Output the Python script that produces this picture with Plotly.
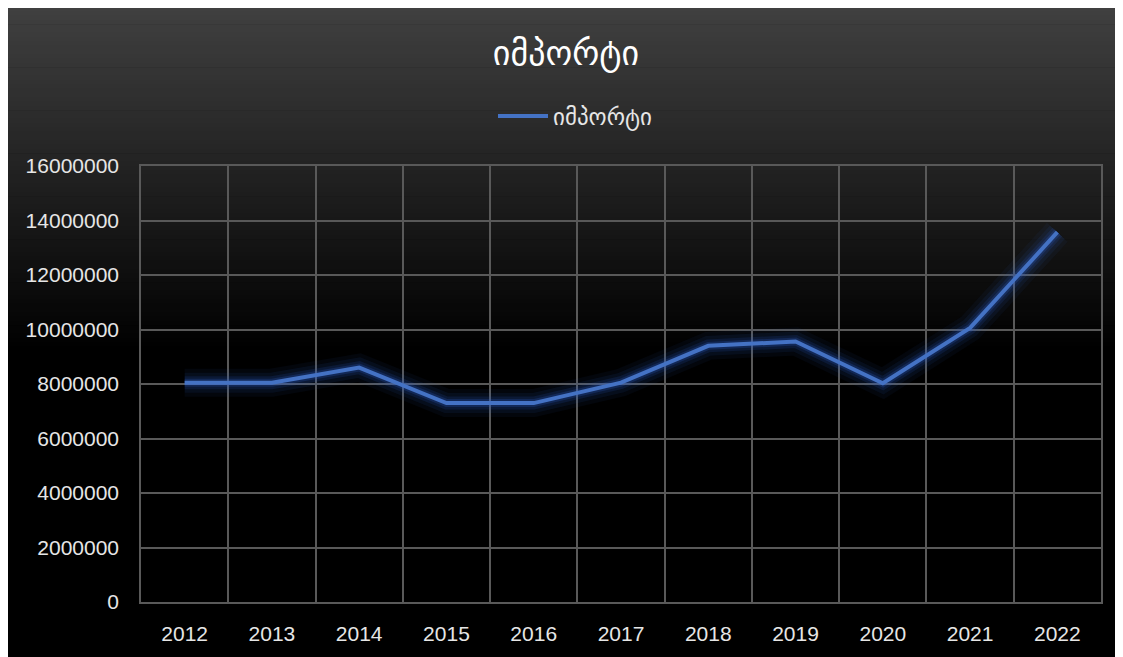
import plotly.graph_objects as go

years = ["2012", "2013", "2014", "2015", "2016", "2017", "2018", "2019", "2020", "2021", "2022"]
imports = [8050000, 8050000, 8600000, 7300000, 7300000, 8050000, 9400000, 9560000, 8030000, 10060000, 13570000]
y_ticks = [0, 2000000, 4000000, 6000000, 8000000, 10000000, 12000000, 14000000, 16000000]
series_name = "იმპორტი"
title_text = "იმპორტი"

OX, OY = 7, 7
W, H = 1112, 650
L, R, T, B = 140 - OX, 1100 - OX, 165 - OY, 601 - OY
PW, PH = R - L, B - T

def px(x):
    return (x - OX - L) / PW

def py(y):
    return (B - (y - OY)) / PH

shapes = []
n = 80
top, bot = 6, 350
for i in range(n):
    ya = top + (bot - top) * i / n
    yb = top + (bot - top) * (i + 1) / n
    frac = 1 - (i + 0.5) / n
    c = int(round(0x40 * frac))
    shapes.append(dict(type="rect", xref="paper", yref="paper", x0=px(0), x1=px(1130), y0=py(yb + 0.6), y1=py(ya - 3 if i == 0 else ya),
                       fillcolor=f"rgb({c},{c},{c})", line=dict(width=0), layer="below"))

fig = go.Figure()
for w, a in [(28, 0.06), (20, 0.09), (13, 0.14), (8, 0.22)]:
    fig.add_trace(go.Scatter(x=years, y=imports, mode="lines", showlegend=False, hoverinfo="skip",
                             line=dict(color=f"rgba(45,95,205,{a})", width=w)))
fig.add_trace(go.Scatter(x=years, y=imports, mode="lines", name=series_name,
                         line=dict(color="#4472C4", width=4)))

grid = "#595959"
fig.update_layout(
    width=W, height=H,
    margin=dict(l=L, r=W - R, t=T, b=H - B, pad=0),
    paper_bgcolor="#000000",
    plot_bgcolor="rgba(0,0,0,0)",
    shapes=shapes,
    title=dict(text=title_text, x=(565 - OX) / W, xanchor="center", y=1 - (52 - OY) / H, yanchor="middle",
               font=dict(family="DejaVu Sans", size=34, color="#ffffff")),
    legend=dict(orientation="h", x=px(574), xanchor="center", y=py(115), yanchor="middle", itemwidth=50,
                font=dict(family="DejaVu Sans", size=23, color="#e6e6e6"), bgcolor="rgba(0,0,0,0)"),
    xaxis=dict(type="category", tickson="boundaries", showgrid=True, gridcolor=grid, gridwidth=1.5,
               showline=True, linecolor=grid, linewidth=1.5, mirror=True, ticks="", ticklabelstandoff=12,
               tickfont=dict(family="Liberation Sans", size=21, color="#e6e6e6"),
               range=[-0.5, 10.5], fixedrange=True),
    yaxis=dict(range=[0, 16000000], tickvals=y_ticks, ticktext=[str(v) for v in y_ticks],
               showgrid=True, gridcolor=grid, gridwidth=1.5, zeroline=False,
               showline=True, linecolor=grid, linewidth=1.5, mirror=True, ticks="", ticklabelstandoff=16,
               tickfont=dict(family="Liberation Sans", size=21, color="#e6e6e6")),
)
fig.write_html("out.html")
